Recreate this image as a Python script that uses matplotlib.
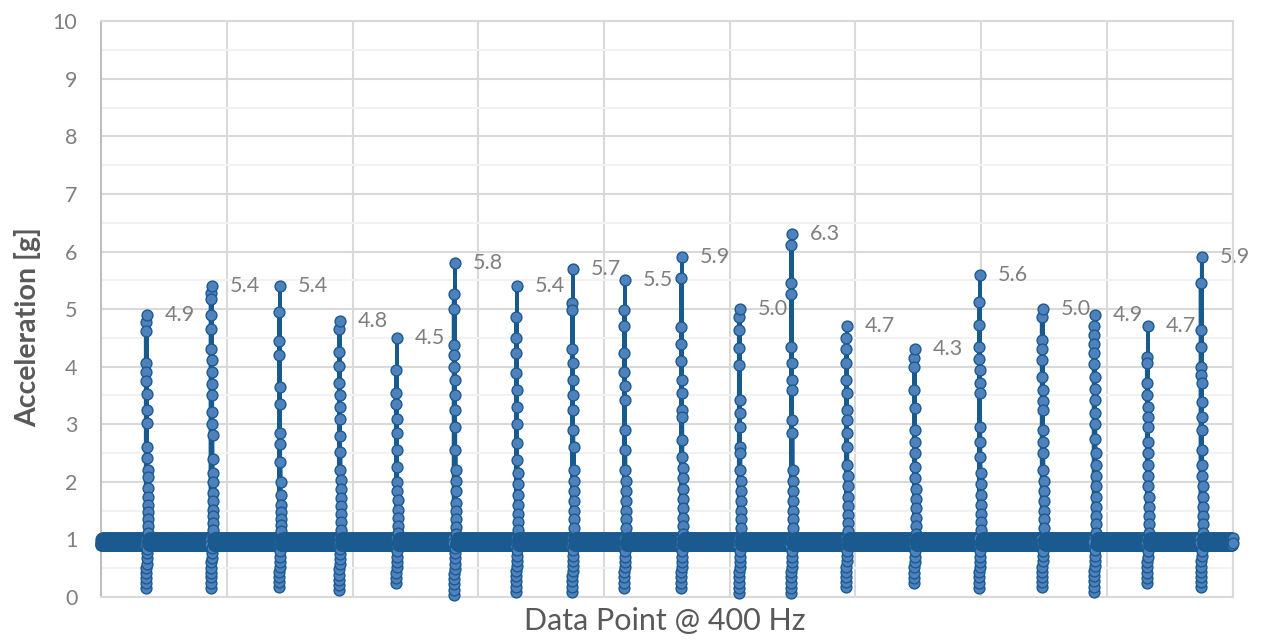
import numpy as np
import matplotlib
matplotlib.use("Agg")
import matplotlib.pyplot as plt
from matplotlib.ticker import MultipleLocator

plt.rcParams["font.family"] = ["Lato", "DejaVu Sans"]

N_SAMPLES = 12000

# resting level between impacts (~1 g), one stretch of recorded samples
quiet_samples = [0.96, 0.91, 1.01, 0.94, 0.90, 0.98, 1.02, 0.95, 0.91, 0.97,
                 1.00, 0.93, 0.95, 0.99, 0.90, 0.96, 1.02, 0.94, 0.92, 0.99,
                 0.90, 0.97, 1.01, 0.95, 0.92, 0.98, 0.96, 0.91, 1.02, 0.94]

# sample index of each impact peak
event_centers = [487, 1176, 1897, 2533, 3137, 3752, 4409, 5004, 5554, 6160,
                 6773, 7325, 7908, 8630, 9319, 9986, 10538, 11099, 11671]

event_peaks = [4.9, 5.4, 5.4, 4.8, 4.5, 5.8, 5.4, 5.7, 5.5, 5.9,
               5.0, 6.3, 4.7, 4.3, 5.6, 5.0, 4.9, 4.7, 5.9]

# ring-down samples above the resting level
event_upper = [
    [4.78, 4.62, 4.06, 3.9, 3.75, 3.52, 3.25, 3.02, 2.6, 2.42, 2.2, 2.08, 1.9, 1.74, 1.6, 1.48, 1.36, 1.24, 1.12],
    [5.28, 5.18, 4.9, 4.65, 4.3, 4.12, 3.9, 3.7, 3.5, 3.22, 3.0, 2.82, 2.4, 2.16, 2.0, 1.8, 1.66, 1.52, 1.4, 1.28, 1.16],
    [4.95, 4.45, 4.2, 3.65, 3.35, 2.85, 2.65, 2.35, 2.0, 1.78, 1.6, 1.48, 1.36, 1.25, 1.14],
    [4.66, 4.25, 4.02, 3.72, 3.5, 3.3, 3.1, 2.8, 2.52, 2.2, 2.04, 1.88, 1.72, 1.58, 1.44, 1.3, 1.17],
    [3.95, 3.55, 3.35, 3.1, 2.85, 2.55, 2.25, 2.0, 1.84, 1.68, 1.52, 1.38, 1.24, 1.12],
    [5.27, 5.0, 4.37, 4.2, 4.0, 3.77, 3.5, 3.25, 2.95, 2.55, 2.2, 2.02, 1.84, 1.63, 1.5, 1.36, 1.22, 1.1],
    [4.87, 4.5, 4.24, 3.89, 3.6, 3.3, 3.0, 2.67, 2.38, 2.15, 1.96, 1.78, 1.6, 1.44, 1.3, 1.16],
    [5.1, 4.98, 4.3, 4.06, 3.77, 3.5, 3.25, 2.9, 2.6, 2.2, 2.02, 1.84, 1.66, 1.5, 1.35, 1.2],
    [4.98, 4.7, 4.24, 3.9, 3.66, 3.42, 2.9, 2.55, 2.2, 2.02, 1.84, 1.66, 1.5, 1.35, 1.2],
    [5.54, 4.69, 4.4, 4.1, 3.77, 3.54, 3.25, 3.13, 2.73, 2.43, 2.24, 2.06, 1.88, 1.7, 1.54, 1.38, 1.24, 1.1],
    [4.86, 4.64, 4.32, 4.03, 3.42, 3.2, 2.95, 2.6, 2.5, 2.2, 2.02, 1.84, 1.66, 1.5, 1.35, 1.2],
    [6.12, 5.45, 5.27, 4.34, 4.06, 3.77, 3.6, 3.07, 2.85, 2.2, 2.02, 1.84, 1.66, 1.5, 1.35, 1.2],
    [4.5, 4.3, 4.06, 3.77, 3.54, 3.25, 3.07, 2.85, 2.6, 2.3, 2.1, 1.92, 1.74, 1.58, 1.42, 1.28, 1.14],
    [4.15, 4.0, 3.6, 3.28, 2.9, 2.7, 2.5, 2.26, 2.06, 1.88, 1.7, 1.54, 1.38, 1.24, 1.1],
    [5.12, 4.72, 4.34, 4.14, 3.94, 3.72, 3.54, 2.95, 2.7, 2.43, 2.16, 1.96, 1.78, 1.6, 1.44, 1.3, 1.16],
    [4.86, 4.46, 4.3, 4.11, 3.82, 3.6, 3.4, 3.25, 2.9, 2.7, 2.5, 2.2, 2.02, 1.84, 1.66, 1.5, 1.35, 1.2],
    [4.7, 4.55, 4.4, 4.24, 4.05, 3.82, 3.62, 3.42, 3.2, 3.0, 2.75, 2.5, 2.3, 2.1, 1.92, 1.74, 1.56, 1.4, 1.26, 1.12],
    [4.17, 4.06, 3.72, 3.5, 3.3, 3.12, 2.95, 2.7, 2.5, 2.3, 2.1, 1.92, 1.74, 1.56, 1.4, 1.26, 1.12],
    [5.45, 4.64, 4.34, 3.99, 3.85, 3.72, 3.39, 3.13, 2.9, 2.55, 2.3, 2.1, 1.92, 1.74, 1.56, 1.4, 1.26, 1.12],
]

# ring-down samples below the resting level
event_lower = [
    [0.16, 0.24, 0.33, 0.41, 0.5, 0.58, 0.67, 0.76, 0.84],
    [0.16, 0.25, 0.34, 0.42, 0.51, 0.6, 0.68, 0.77, 0.85],
    [0.17, 0.26, 0.35, 0.44, 0.52, 0.61, 0.7, 0.8],
    [0.12, 0.21, 0.3, 0.39, 0.48, 0.57, 0.66, 0.75, 0.84],
    [0.24, 0.33, 0.42, 0.52, 0.61, 0.7, 0.8],
    [0.03, 0.12, 0.22, 0.31, 0.4, 0.49, 0.58, 0.67, 0.76, 0.85],
    [0.09, 0.18, 0.27, 0.36, 0.45, 0.54, 0.63, 0.72, 0.82],
    [0.09, 0.18, 0.27, 0.36, 0.45, 0.54, 0.63, 0.72, 0.82],
    [0.16, 0.25, 0.34, 0.43, 0.52, 0.61, 0.7, 0.8],
    [0.16, 0.25, 0.34, 0.43, 0.52, 0.61, 0.7, 0.8],
    [0.07, 0.16, 0.25, 0.34, 0.43, 0.52, 0.61, 0.7, 0.8],
    [0.07, 0.16, 0.25, 0.34, 0.43, 0.52, 0.61, 0.7, 0.8],
    [0.17, 0.26, 0.35, 0.44, 0.53, 0.62, 0.71, 0.8],
    [0.24, 0.33, 0.42, 0.52, 0.61, 0.7, 0.8],
    [0.16, 0.25, 0.34, 0.43, 0.52, 0.61, 0.7, 0.8],
    [0.17, 0.26, 0.35, 0.44, 0.53, 0.62, 0.71, 0.8],
    [0.09, 0.18, 0.27, 0.36, 0.45, 0.54, 0.63, 0.72, 0.82],
    [0.24, 0.33, 0.42, 0.52, 0.61, 0.7, 0.8],
    [0.17, 0.26, 0.35, 0.44, 0.53, 0.62, 0.71, 0.8],
]

LINE_COLOR = "#185A8C"
FACE_COLOR = "#4F81BD"
EDGE_COLOR = "#1A5A8E"
TEXT_GRAY = "#7F7F7F"
TITLE_GRAY = "#595959"


def build_signal():
    """Resting samples with each impact's ring-down written in around its peak."""
    sig = np.resize(np.array(quiet_samples, dtype=float), N_SAMPLES)
    for center, peak, up, low in zip(event_centers, event_peaks, event_upper, event_lower):
        seq = []
        for k in range(max(len(up), len(low))):
            if k < len(low):
                seq.append(low[k])
            if k < len(up):
                seq.append(up[k])
        half = len(seq) // 2
        seq.insert(half, peak)
        start = center - half
        sig[start:start + len(seq)] = seq
    return sig


signal = build_signal()
idx = np.arange(N_SAMPLES)

fig = plt.figure(figsize=(12.63, 6.43), dpi=100)
ax = fig.add_axes([0.080, 0.0715, 0.896, 0.8955])

ax.plot(idx, signal, color=LINE_COLOR, lw=2.6, marker="o", ms=7.8,
        mfc=FACE_COLOR, mec=EDGE_COLOR, mew=1.0, clip_on=False, zorder=3)

for c, v in zip(event_centers, event_peaks):
    ax.annotate(f"{v:.1f}", (c, v), xytext=(13, 0), textcoords="offset points",
                ha="left", va="center", fontsize=15.5, color=TEXT_GRAY, zorder=2)

ax.set_ylim(0, 10)
ax.set_xlim(0, N_SAMPLES - 1)
ax.yaxis.set_major_locator(MultipleLocator(1))
ax.yaxis.set_minor_locator(MultipleLocator(0.5))
ax.set_xticks(np.linspace(0, N_SAMPLES - 1, 10))
ax.tick_params(axis="x", length=0, labelbottom=False)
ax.tick_params(axis="y", which="both", length=0, pad=17,
               labelsize=15.5, labelcolor=TEXT_GRAY)

ax.set_axisbelow(True)
ax.grid(which="major", axis="both", color="#D9D9D9", lw=1.5)
ax.grid(which="minor", axis="y", color="#F2F2F2", lw=1.5)
for side in ("top", "right", "bottom"):
    ax.spines[side].set_color("#D9D9D9")
    ax.spines[side].set_linewidth(1.5)
ax.spines["left"].set_color("#BFBFBF")
ax.spines["left"].set_linewidth(1.5)

fig.text(0.022, 1 - 327 / 643, "Acceleration [g]", rotation=90, ha="center",
         va="center", fontsize=20.5, fontweight="bold", color=TITLE_GRAY)
fig.text(665 / 1263, 1 - 621 / 643, "Data Point @ 400 Hz", ha="center",
         va="center", fontsize=22, color=TITLE_GRAY)

fig.savefig("out.png", dpi=100)
